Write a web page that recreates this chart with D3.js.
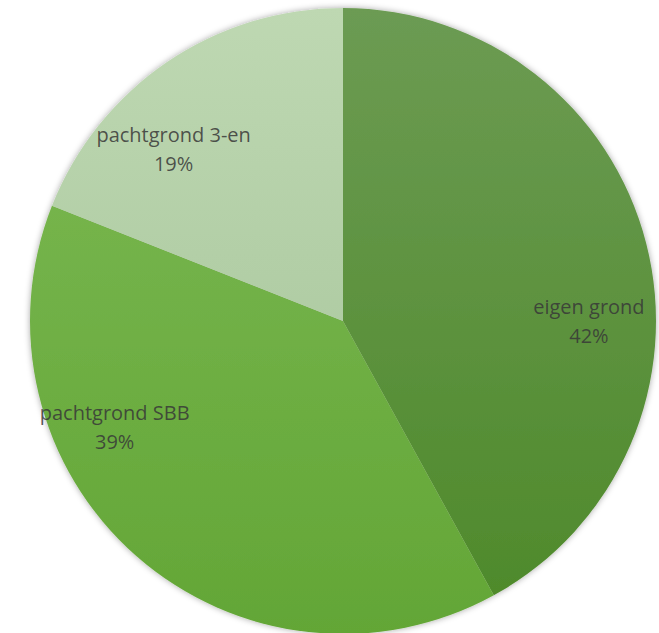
<!DOCTYPE html>
<html>
<head>
<meta charset="utf-8">
<script src="https://cdn.jsdelivr.net/npm/d3@7"></script>
<style>
  body { margin: 0; background: #fff; }
  svg { display: block; }
</style>
</head>
<body>
<div id="chart"></div>
<script>
(() => {
    const width = 659, height = 633;
    const cx = 343, cy = 321, radius = 313;

    // data
    const categories = ["eigen grond", "pachtgrond SBB", "pachtgrond 3-en"];
    const values = [42, 39, 19];
    const labels = ["42%", "39%", "19%"];

    // colours top -> bottom (Excel style gradient)
    const colorsTop = ["#6c9b53", "#7dba55", "#bed8b2"];
    const colorsBottom = ["#4d8929", "#63a636", "#a2c196"];
    // label placement: angle (deg, clockwise from top), distance from centre
    const labelAngle = [88.4, 246.5, 316.6];
    const labelDist = [246, 249, 246.5];

    const svg = d3.select("#chart").append("svg")
        .attr("width", width)
        .attr("height", height);

    const defs = svg.append("defs");
    categories.forEach((c, i) => {
        const g = defs.append("linearGradient")
            .attr("id", "grad" + i)
            .attr("gradientUnits", "userSpaceOnUse")
            .attr("x1", 0).attr("y1", -radius)
            .attr("x2", 0).attr("y2", radius);
        g.append("stop").attr("offset", "0%").attr("stop-color", colorsTop[i]);
        g.append("stop").attr("offset", "100%").attr("stop-color", colorsBottom[i]);
    });

    const filter = defs.append("filter").attr("id", "shadow")
        .attr("x", "-10%").attr("y", "-10%").attr("width", "120%").attr("height", "120%");
    filter.append("feDropShadow")
        .attr("dx", 0).attr("dy", 0)
        .attr("stdDeviation", 3)
        .attr("flood-color", "#000")
        .attr("flood-opacity", 0.35);

    const pie = d3.pie().sort(null).value(d => d.value);
    const arc = d3.arc().innerRadius(0).outerRadius(radius);

    const data = categories.map((c, i) => ({ name: c, value: values[i], label: labels[i], i }));

    const g = svg.append("g")
        .attr("transform", `translate(${cx},${cy})`);

    g.append("g").attr("filter", "url(#shadow)")
        .selectAll("path")
        .data(pie(data))
        .enter()
        .append("path")
        .attr("d", arc)
        .attr("fill", d => `url(#grad${d.data.i})`);

    // labels: anchor is the baseline of the name line
    const lbl = g.selectAll(".lbl")
        .data(data)
        .enter()
        .append("text")
        .attr("class", "lbl")
        .attr("text-anchor", "middle")
        .attr("font-family", "'Open Sans', 'Noto Sans', sans-serif")
        .attr("font-size", "20px")
        .attr("fill", "#383838")
        .attr("fill-opacity", 0.85)
        .attr("transform", d => {
            const a = labelAngle[d.i] * Math.PI / 180;
            const r = labelDist[d.i];
            return `translate(${r * Math.sin(a)},${-r * Math.cos(a)})`;
        });

    lbl.append("tspan").attr("x", 0).attr("y", 0).text(d => d.name);
    lbl.append("tspan").attr("x", 0).attr("y", 29).text(d => d.label);
})();
</script>
</body>
</html>
